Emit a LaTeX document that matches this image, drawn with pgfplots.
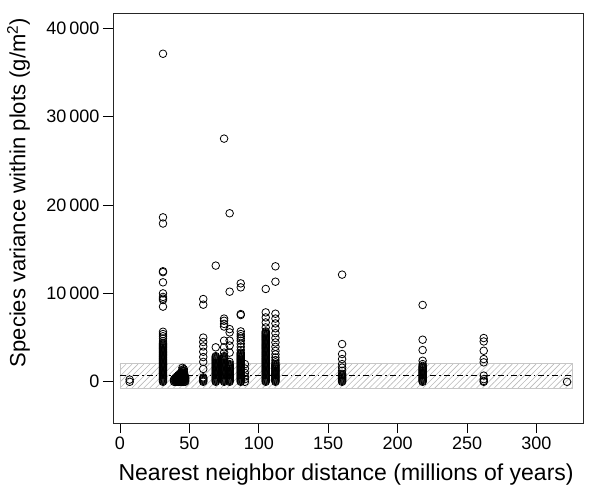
\documentclass[border=0pt]{standalone}
\usepackage{fontspec}
\setmainfont{Liberation Sans}
\usepackage{pgfplots}
\pgfplotsset{compat=1.18}
\usetikzlibrary{patterns.meta}

\begin{document}
\begin{tikzpicture}
\begin{axis}[
  scale only axis, width=470pt, height=410pt,
  xmin=-5, xmax=333.5, ymin=-4660, ymax=41710,
  xtick={0,50,...,300}, ytick={0,10000,...,40000},
  xtick pos=bottom, ytick pos=left,
  tick align=outside, major tick length=10pt,
  tick style={black, line width=0.8pt},
  axis line style={black!85, line width=0.9pt},
  /pgf/number format/assume math mode=true,
  /pgf/number format/1000 sep={\,},
  scaled y ticks=false,
  tick label style={font=\fontsize{18}{20}\selectfont},
  label style={font=\fontsize{23}{26}\selectfont},
  xlabel={Nearest neighbor distance (millions of years)},
  ylabel={Species variance within plots (g/m\textsuperscript{2})},
  xlabel style={at={(axis description cs:0.496,-0.1398)}, anchor=base},
  ylabel style={at={(axis description cs:-0.201,0.562)}, anchor=center, font=\fontsize{22}{24}\selectfont},
]
% species points, one column per nearest neighbor distance
\addplot[only marks, mark=o, mark size=3.8pt, line width=0.8pt, black] coordinates {
(7,0) (7,250)
% 31
(31,37100) (31,18600) (31,17900) (31,12500) (31,12400) (31,11250) (31,10000) (31,9600) (31,9400) (31,9250) (31,8500)
(31,5660) (31,5400) (31,5150) (31,4900)
(31,0) (31,100) (31,200) (31,300) (31,400) (31,500) (31,600) (31,700) (31,800) (31,900)
(31,1000) (31,1100) (31,1200) (31,1300) (31,1400) (31,1500) (31,1600) (31,1700) (31,1800) (31,1900)
(31,2000) (31,2100) (31,2200) (31,2300) (31,2400) (31,2500) (31,2600) (31,2700) (31,2800) (31,2900)
(31,3000) (31,3100) (31,3200) (31,3300) (31,3400) (31,3500) (31,3600) (31,3700) (31,3800) (31,3900)
(31,4000) (31,4100) (31,4200) (31,4300) (31,4400) (31,4600)
% 39-47
(39,0) (39,150) (39,300)
(40,0) (40,150) (40,300) (40,450)
(41,0) (41,150) (41,300) (41,450) (41,600)
(42,0) (42,150) (42,300) (42,450) (42,600) (42,750)
(43,0) (43,150) (43,300) (43,450) (43,600) (43,750) (43,900)
(44,0) (44,150) (44,300) (44,450) (44,600) (44,750) (44,900) (44,1050)
(45,0) (45,150) (45,300) (45,450) (45,600) (45,750) (45,900) (45,1050) (45,1200) (45,1350) (45,1580)
(46,0) (46,150) (46,300) (46,450) (46,600) (46,750) (46,900) (46,1050) (46,1200) (46,1430)
(47,0) (47,150) (47,300) (47,450) (47,600)
% 60
(60,9360) (60,8720) (60,5000) (60,4500) (60,4000) (60,3400) (60,2800) (60,2250) (60,1450)
(60,0) (60,100) (60,200) (60,300) (60,400) (60,500)
% 69
(69,13140) (69,3900)
(69,0) (69,100) (69,200) (69,300) (69,400) (69,500) (69,600) (69,700) (69,800) (69,900)
(69,1000) (69,1100) (69,1200) (69,1300) (69,1400) (69,1500) (69,1600) (69,1700) (69,1800) (69,1900)
(69,2000) (69,2100) (69,2200) (69,2300) (69,2400) (69,2500) (69,2600) (69,2700) (69,2800) (69,2900)
% 75
(75,27500) (75,7150) (75,6900) (75,6550) (75,6250) (75,4650) (75,3900) (75,3300)
(75,0) (75,100) (75,200) (75,300) (75,400) (75,500) (75,600) (75,700) (75,800) (75,900)
(75,1000) (75,1100) (75,1200) (75,1300) (75,1400) (75,1500) (75,1600) (75,1700) (75,1800) (75,1900)
(75,2000) (75,2100) (75,2200) (75,2300) (75,2400) (75,2500) (75,2600) (75,2700) (75,2800) (75,2900)
% 79
(79,19060) (79,10190) (79,5960) (79,5590) (79,4650) (79,4100) (79,3300) (79,2250)
(79,0) (79,100) (79,200) (79,300) (79,400) (79,500) (79,600) (79,700) (79,800) (79,900)
(79,1000) (79,1100) (79,1200) (79,1300) (79,1400) (79,1500) (79,1600) (79,1700) (79,1800) (79,1900) (79,2000)
% 87
(87,11130) (87,10680) (87,7660) (87,7550)
(87,5700) (87,5400) (87,5150) (87,4900) (87,4650) (87,4300) (87,3950) (87,3600)
(87,0) (87,100) (87,200) (87,300) (87,400) (87,500) (87,600) (87,700) (87,800) (87,900)
(87,1000) (87,1100) (87,1200) (87,1300) (87,1400) (87,1500) (87,1600) (87,1700) (87,1800) (87,1900)
(87,2000) (87,2100) (87,2200) (87,2300) (87,2400) (87,2500) (87,2600) (87,2700) (87,2800) (87,2900)
(87,3000) (87,3100) (87,3200) (87,3300)
(90,2000) (90,1500) (90,1000) (90,600) (90,300) (90,0)
% 105
(105,10500) (105,7850) (105,7280) (105,6710) (105,6150)
(105,0) (105,100) (105,200) (105,300) (105,400) (105,500) (105,600) (105,700) (105,800) (105,900)
(105,1000) (105,1100) (105,1200) (105,1300) (105,1400) (105,1500) (105,1600) (105,1700) (105,1800) (105,1900)
(105,2000) (105,2100) (105,2200) (105,2300) (105,2400) (105,2500) (105,2600) (105,2700) (105,2800) (105,2900)
(105,3000) (105,3100) (105,3200) (105,3300) (105,3400) (105,3500) (105,3600) (105,3700) (105,3800) (105,3900)
(105,4000) (105,4100) (105,4200) (105,4300) (105,4400) (105,4500) (105,4600) (105,4700) (105,4800) (105,4900)
(105,5000) (105,5100) (105,5200) (105,5300) (105,5400) (105,5500) (105,5600) (105,5700)
% 112
(112,13060) (112,11320) (112,7700) (112,7150) (112,6600) (112,6050) (112,5500) (112,4950) (112,4450)
(112,3950) (112,3500) (112,3100) (112,2750) (112,2450) (112,2200)
(112,0) (112,100) (112,200) (112,300) (112,400) (112,500) (112,600) (112,700) (112,800) (112,900)
(112,1000) (112,1100) (112,1200) (112,1300) (112,1400) (112,1500) (112,1600) (112,1700) (112,1800) (112,1900) (112,2000)
% 160
(160,12120) (160,4270) (160,3140) (160,2570) (160,2000) (160,1600) (160,1250)
(160,0) (160,100) (160,200) (160,300) (160,400) (160,500) (160,600) (160,700) (160,800) (160,900)
% 218
(218,8690) (218,4760) (218,3590) (218,2380)
(218,0) (218,100) (218,200) (218,300) (218,400) (218,500) (218,600) (218,700) (218,800) (218,900)
(218,1000) (218,1100) (218,1200) (218,1300) (218,1400) (218,1500) (218,1600) (218,1700) (218,1800) (218,2000)
% 262
(262,4950) (262,4560) (262,3510) (262,2570) (262,2200) (262,700) (262,300) (262,100) (262,0)
(322,0)
};
% hatched band and mean line
\addplot[draw=gray!45, line width=0.6pt, pattern={Lines[angle=45,distance=4.2pt,line width=0.6pt]}, pattern color=gray!55]
  coordinates {(0,-700) (326,-700) (326,2050) (0,2050)} -- cycle;
\addplot[black, line width=0.6pt, dash pattern=on 6pt off 3pt on 1.5pt off 3pt] coordinates {(0,680) (326,680)};
\end{axis}
\pgfresetboundingbox
\path ([xshift=-113pt,yshift=-61.3pt]current axis.south west) rectangle ([xshift=7pt,yshift=13pt]current axis.north east);
\end{tikzpicture}
\end{document}
